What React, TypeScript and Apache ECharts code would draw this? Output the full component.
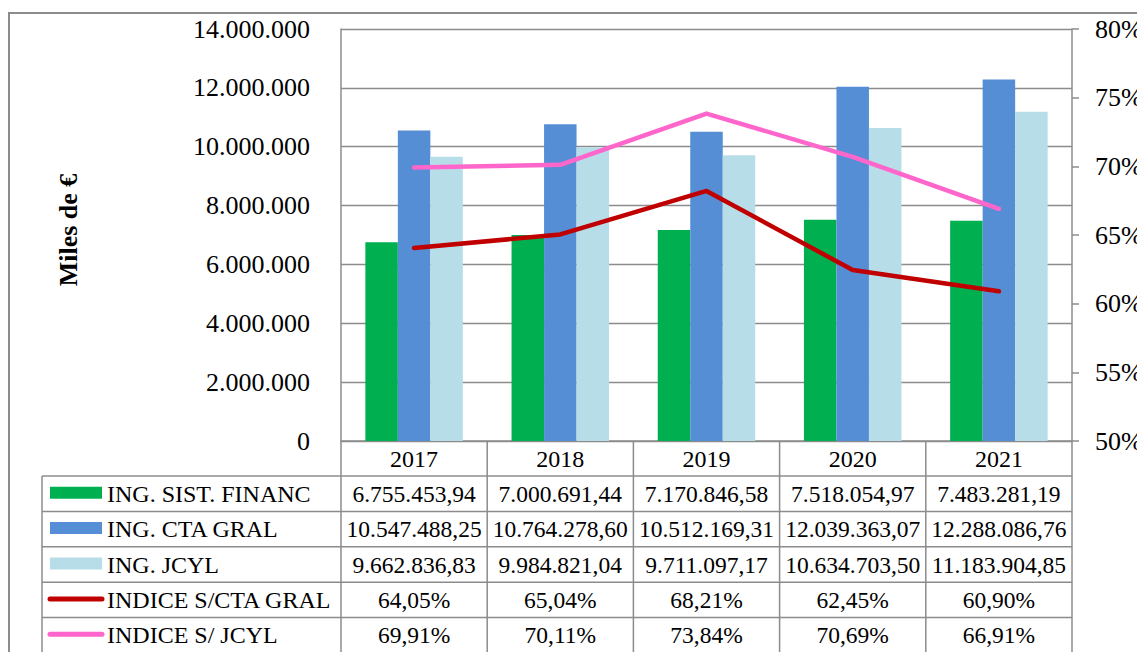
import React, { useEffect, useRef } from "react";
import * as echarts from "echarts";

const years = ["2017", "2018", "2019", "2020", "2021"];
const ingSistFinanc = [6755453.94, 7000691.44, 7170846.58, 7518054.97, 7483281.19];
const ingCtaGral = [10547488.25, 10764278.6, 10512169.31, 12039363.07, 12288086.76];
const ingJcyl = [9662836.83, 9984821.04, 9711097.17, 10634703.5, 11183904.85];
const indiceCtaGral = [64.05, 65.04, 68.21, 62.45, 60.9];
const indiceJcyl = [69.91, 70.11, 73.84, 70.69, 66.91];

const seriesNames = ["ING. SIST. FINANC", "ING. CTA GRAL", "ING. JCYL", "INDICE S/CTA GRAL", "INDICE S/ JCYL"];
const colors = ["#00B050", "#558ED5", "#B7DEE8", "#C00000", "#FF66CC"];

const FONT = "Liberation Serif";
const GRID_L = 341;
const GRID_R = 1072;
const GRID_T = 29;
const GRID_B = 441;
const HEADER_B = 476;
const ROW_H = 35.4;
const TABLE_L = 42;
const LINE_C = "#8c8c8c";

function fmtThousands(v: number): string {
  const s = Math.round(v).toString();
  return s.replace(/\B(?=(\d{3})+(?!\d))/g, ".");
}
function fmtMoney(v: number): string {
  const [i, d] = v.toFixed(2).split(".");
  return i.replace(/\B(?=(\d{3})+(?!\d))/g, ".") + "," + d;
}
function fmtPct(v: number): string {
  return v.toFixed(2).replace(".", ",") + "%";
}

export default function App() {
  const ref = useRef<HTMLDivElement>(null);
  useEffect(() => {
    if (!ref.current) return;
    const chart = echarts.init(ref.current, null, { renderer: "svg" });
    const colW = (GRID_R - GRID_L) / years.length;
    const rows = [
      ingSistFinanc.map(fmtMoney),
      ingCtaGral.map(fmtMoney),
      ingJcyl.map(fmtMoney),
      indiceCtaGral.map(fmtPct),
      indiceJcyl.map(fmtPct),
    ];
    const txt = (size: number, extra: any = {}) => ({
      fontFamily: FONT,
      fontSize: size,
      fill: "#000",
      ...extra,
    });
    const g: any[] = [];
    g.push({
      type: "rect",
      shape: { x: 9, y: 13, width: 1300, height: 800 },
      style: { fill: "none", stroke: LINE_C, lineWidth: 2 },
      silent: true,
    });
    years.forEach((y, i) => {
      g.push({
        type: "text",
        x: GRID_L + colW * (i + 0.5),
        y: (GRID_B + HEADER_B) / 2,
        style: { text: y, ...txt(24), align: "center", verticalAlign: "middle" },
      });
    });
    for (let i = 0; i <= years.length; i++) {
      const x = GRID_L + colW * i;
      g.push({
        type: "line",
        shape: { x1: x, y1: GRID_B, x2: x, y2: 700 },
        style: { stroke: LINE_C, lineWidth: 1.5 },
      });
    }
    g.push({
      type: "line",
      shape: { x1: TABLE_L, y1: HEADER_B, x2: TABLE_L, y2: 700 },
      style: { stroke: LINE_C, lineWidth: 1.5 },
    });
    for (let r = 0; r <= rows.length; r++) {
      const y = HEADER_B + ROW_H * r;
      g.push({
        type: "line",
        shape: { x1: TABLE_L, y1: y, x2: GRID_R, y2: y },
        style: { stroke: LINE_C, lineWidth: 1.5 },
      });
    }
    rows.forEach((row, r) => {
      const cy = HEADER_B + ROW_H * (r + 0.5);
      if (r < 3) {
        g.push({
          type: "rect",
          shape: { x: 50, y: cy - 7, width: 52, height: 12 },
          style: { fill: colors[r] },
        });
      } else {
        g.push({
          type: "line",
          shape: { x1: 50, y1: cy - 1, x2: 102, y2: cy - 1 },
          style: { stroke: colors[r], lineWidth: 5, lineCap: "round" },
        });
      }
      g.push({
        type: "text",
        x: 107,
        y: cy,
        style: { text: seriesNames[r], ...txt(24), align: "left", verticalAlign: "middle" },
      });
      row.forEach((t, i) => {
        g.push({
          type: "text",
          x: GRID_L + colW * (i + 0.5),
          y: cy,
          style: { text: t, ...txt(23.5), align: "center", verticalAlign: "middle" },
        });
      });
    });
    g.push({
      type: "text",
      x: 68,
      y: 230,
      rotation: Math.PI / 2,
      style: { text: "Miles de €", ...txt(26, { fontWeight: "bold" }), align: "center", verticalAlign: "middle" },
    });

    chart.setOption({
      animation: false,
      backgroundColor: "#fff",
      grid: {
        left: GRID_L,
        right: 1137 - GRID_R,
        top: GRID_T,
        bottom: 652 - GRID_B,
        containLabel: false,
        outerBoundsMode: "none",
      },
      xAxis: {
        type: "category",
        data: years,
        axisLine: { show: true, lineStyle: { color: LINE_C, width: 1.5 } },
        axisTick: { show: false },
        axisLabel: { show: false },
        splitLine: { show: false },
      },
      yAxis: [
        {
          type: "value",
          min: 0,
          max: 14000000,
          interval: 2000000,
          axisLine: { show: true, lineStyle: { color: LINE_C, width: 1.5 } },
          axisTick: { show: false },
          axisLabel: {
            margin: 31,
            fontFamily: FONT,
            fontSize: 26,
            color: "#000",
            formatter: (v: number) => fmtThousands(v),
          },
          splitLine: { show: true, lineStyle: { color: LINE_C, width: 1.3 } },
        },
        {
          type: "value",
          min: 50,
          max: 80,
          interval: 5,
          position: "right",
          axisLine: { show: true, lineStyle: { color: LINE_C, width: 1.5 } },
          axisTick: { show: true, inside: false, length: 7, lineStyle: { color: LINE_C, width: 1.5 } },
          axisLabel: {
            margin: 23,
            fontFamily: FONT,
            fontSize: 26,
            color: "#000",
            formatter: (v: number) => v + "%",
          },
          splitLine: { show: false },
        },
      ],
      series: [
        { name: seriesNames[0], type: "bar", data: ingSistFinanc, barWidth: 32.5, barGap: "0%", itemStyle: { color: colors[0] } },
        { name: seriesNames[1], type: "bar", data: ingCtaGral, barWidth: 32.5, barGap: "0%", itemStyle: { color: colors[1] } },
        { name: seriesNames[2], type: "bar", data: ingJcyl, barWidth: 32.5, barGap: "0%", itemStyle: { color: colors[2] } },
        {
          name: seriesNames[3],
          type: "line",
          yAxisIndex: 1,
          data: indiceCtaGral,
          symbol: "none",
          z: 5,
          lineStyle: { color: colors[3], width: 4.5, cap: "round", join: "round" },
        },
        {
          name: seriesNames[4],
          type: "line",
          yAxisIndex: 1,
          data: indiceJcyl,
          symbol: "none",
          z: 5,
          lineStyle: { color: colors[4], width: 4.5, cap: "round", join: "round" },
        },
      ],
      graphic: g,
    });
    return () => chart.dispose();
  }, []);
  return (
    <div
      ref={ref}
      style={{ position: "fixed", left: 0, top: 0, width: 1137, height: 652, background: "#fff" }}
    />
  );
}
